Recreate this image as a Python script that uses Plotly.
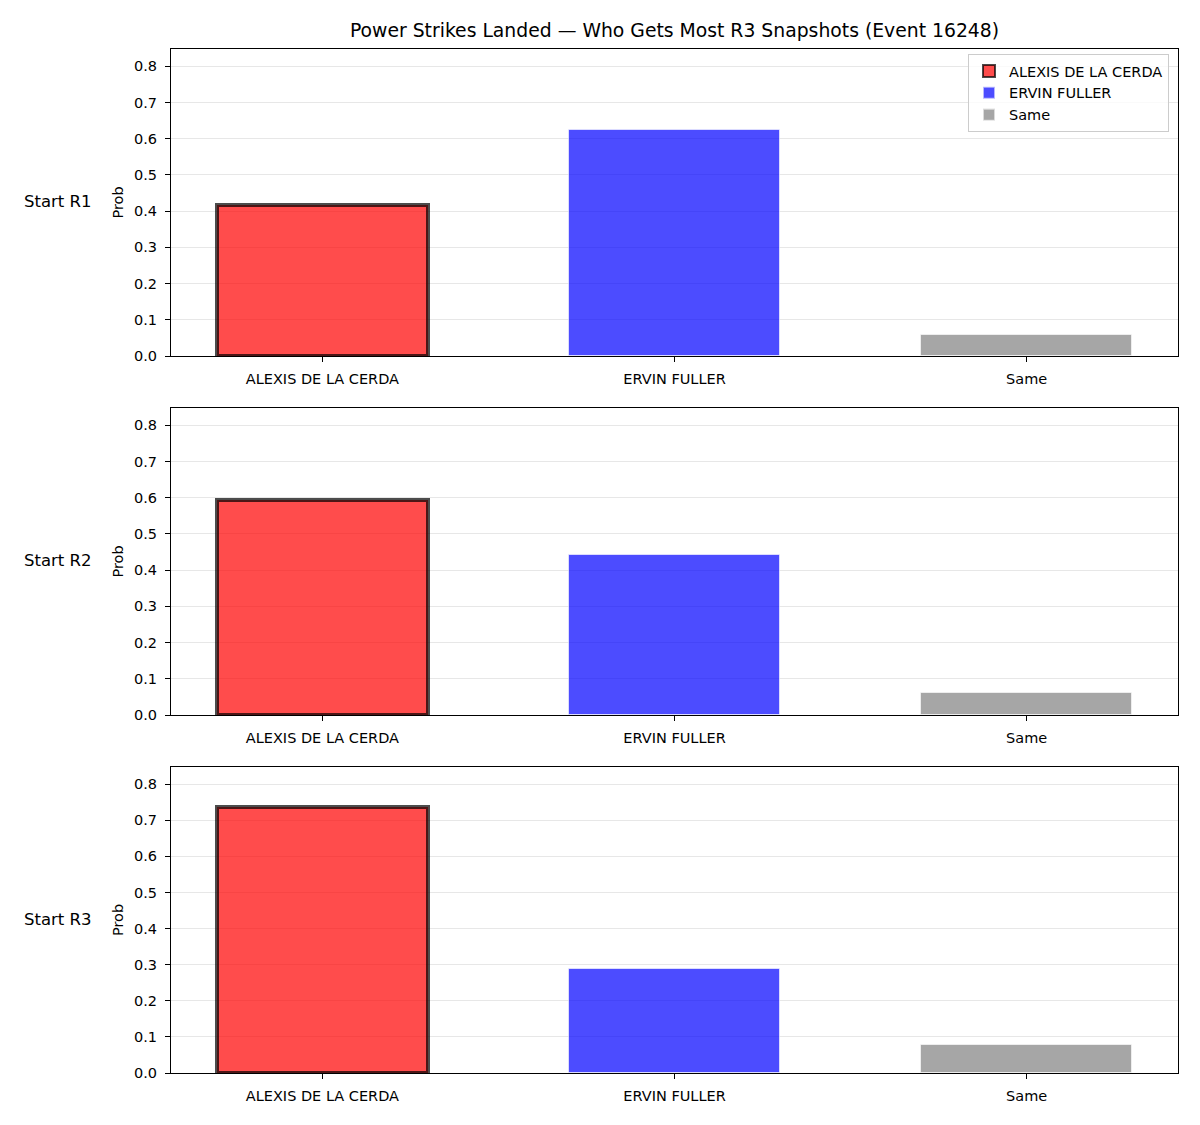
import plotly.graph_objects as go

categories = ["ALEXIS DE LA CERDA", "ERVIN FULLER", "Same"]
row_labels = ["Start R1", "Start R2", "Start R3"]
probs_r1 = [0.417, 0.624, 0.057]
probs_r2 = [0.593, 0.442, 0.062]
probs_r3 = [0.737, 0.288, 0.077]
all_probs = [probs_r1, probs_r2, probs_r3]
title = "Power Strikes Landed — Who Gets Most R3 Snapshots (Event 16248)"
y_ticks = [0.0, 0.1, 0.2, 0.3, 0.4, 0.5, 0.6, 0.7, 0.8]

fills = ["rgba(255,0,0,0.7)", "rgba(0,0,255,0.7)", "rgba(128,128,128,0.7)"]
edges = ["rgba(0,0,0,0.7)", "rgba(255,255,255,0.6)", "rgba(255,255,255,0.6)"]
edge_w = [4, 1, 1]

W, H = 1200, 1125
x0, x1 = 171 / W, 1178 / W
panels = [(49, 356), (408, 715), (767, 1073)]

fig = go.Figure()
font = "DejaVu Sans, Liberation Sans, sans-serif"
ymax = max(max(p) for p in all_probs) * 1.15

for r, probs in enumerate(all_probs):
    sfx = "" if r == 0 else str(r + 1)
    for i, cat in enumerate(categories):
        fig.add_trace(go.Bar(
            x=[i], y=[probs[i]], name=cat, width=0.6,
            marker=dict(color=fills[i], line=dict(color=edges[i], width=edge_w[i])),
            showlegend=(r == 0), legendgroup=cat,
            xaxis="x" + sfx, yaxis="y" + sfx,
        ))
    top, bot = panels[r]
    dom = [1 - bot / H, 1 - top / H]
    fig.layout["xaxis" + sfx] = dict(
        domain=[x0, x1], anchor="y" + sfx, range=[-0.43, 2.43], automargin=False,
        tickmode="array", tickvals=[0, 1, 2], ticktext=categories,
        showline=True, linecolor="black", linewidth=1.2, mirror=True,
        ticks="outside", ticklen=5, tickcolor="black", showgrid=False, zeroline=False,
        ticklabelstandoff=4,
        tickfont=dict(size=14.5, color="black", family=font),
    )
    fig.layout["yaxis" + sfx] = dict(
        domain=dom, anchor="x" + sfx, range=[0, ymax], automargin=False,
        tickmode="array", tickvals=y_ticks, ticktext=[f"{v:.1f}" for v in y_ticks],
        showline=True, linecolor="black", linewidth=1.2, mirror=True,
        ticks="outside", ticklen=5, tickcolor="black", ticklabelstandoff=5,
        showgrid=True, gridcolor="rgba(176,176,176,0.3)", gridwidth=1, zeroline=False,
        tickfont=dict(size=14.5, color="black", family=font),
        title=dict(text="Prob", font=dict(size=14.5, color="black", family=font), standoff=6),
        layer="below traces",
    )
    fig.add_annotation(
        text=row_labels[r], xref="paper", yref="paper",
        x=22 / W, y=1 - ((top + bot) / 2 - 1) / H, xanchor="left", yanchor="middle",
        showarrow=False, font=dict(size=16.5, color="black", family=font),
    )

fig.update_layout(
    width=W, height=H, margin=dict(l=0, r=0, t=0, b=0, autoexpand=False),
    paper_bgcolor="white", plot_bgcolor="white",
    barmode="overlay",
    title=dict(text=title, x=0.5 + (x0 + x1 - 1) / 2, xanchor="center", y=1 - 30 / H, yanchor="middle",
               font=dict(size=18.8, color="black", family=font)),
    legend=dict(x=1169 / W, y=1 - 54 / H, xanchor="right", yanchor="top",
                bgcolor="rgba(255,255,255,0.8)", bordercolor="#cccccc", borderwidth=1,
                font=dict(size=14.5, color="black", family=font), traceorder="normal",
                itemsizing="constant", tracegroupgap=0),
    font=dict(family=font),
    bargap=0,
)

fig.write_html("out.html")
